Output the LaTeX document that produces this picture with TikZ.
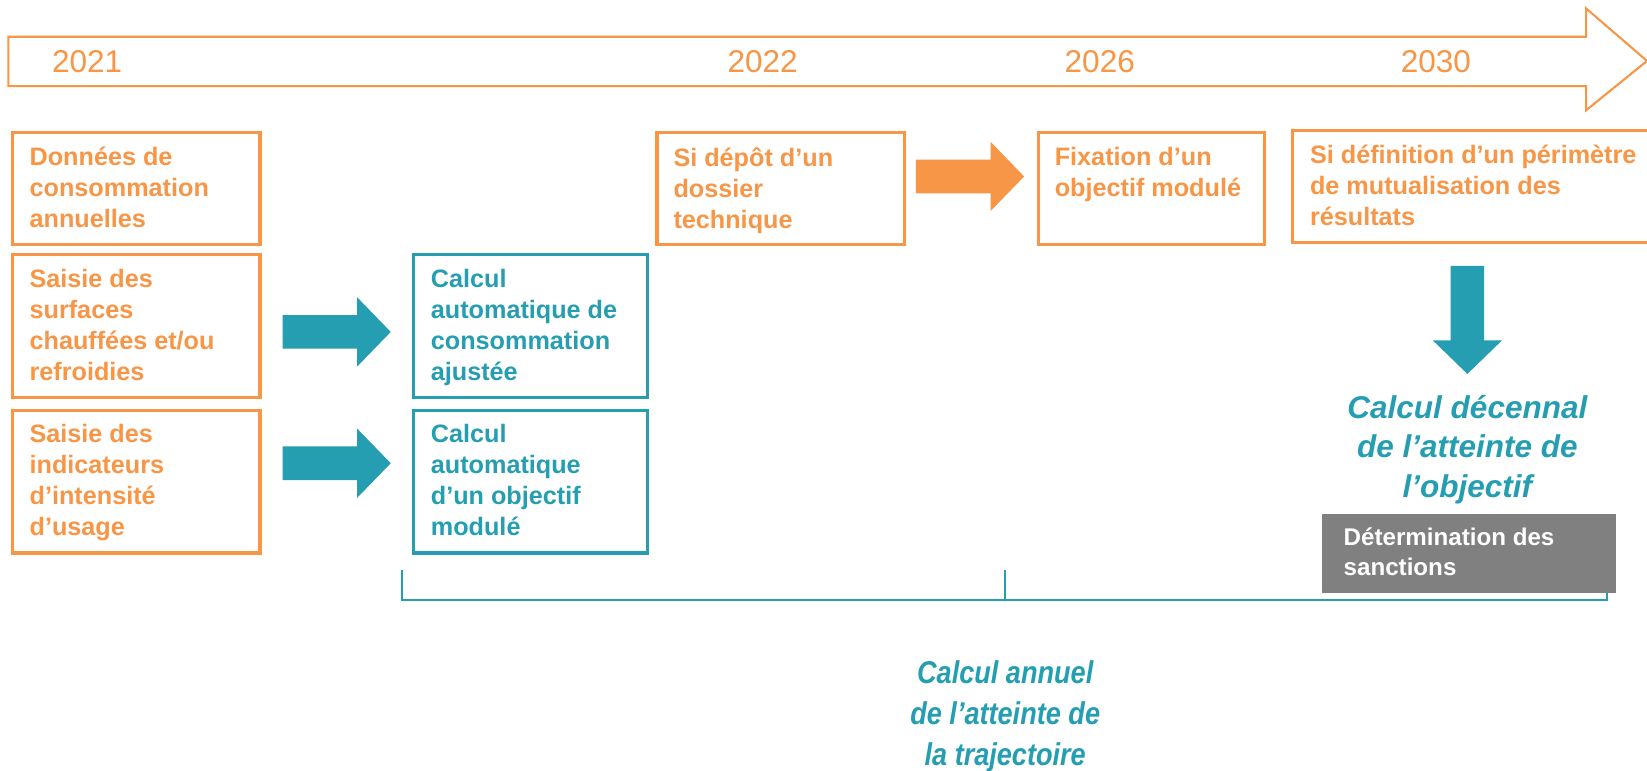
\documentclass[tikz,border=0pt]{standalone}
\usepackage{fontspec}
\setmainfont{Liberation Sans}
\newfontfamily\narrowfont[FakeStretch=0.86]{Liberation Sans}
\definecolor{ora}{RGB}{247,150,70}
\definecolor{tea}{RGB}{37,158,177}
\definecolor{gry}{RGB}{128,128,128}
\tikzset{
  obox/.style={draw=ora, line width=3pt, rectangle, inner sep=0pt},
  tbox/.style={draw=tea, line width=3pt, rectangle, inner sep=0pt},
  otext/.style={text=ora, font=\fontsize{24}{29.5}\selectfont\bfseries, align=left, inner sep=0pt, anchor=north west},
  ttext/.style={text=tea, font=\fontsize{24}{29.5}\selectfont\bfseries, align=left, inner sep=0pt, anchor=north west},
  year/.style={text=ora, font=\fontsize{30}{36}\selectfont, inner sep=0pt},
  blockarrow/.pic={\fill (0,-16) -- (71,-16) -- (71,-33) -- (103,0) -- (71,33) -- (71,16) -- (0,16) -- cycle;}
}
\begin{document}
\begin{tikzpicture}[x=1pt,y=-1pt]
\useasboundingbox (0,0) rectangle (1568,734);
\clip (0,0) rectangle (1568,734);
\fill[white] (0,0) rectangle (1568,734);
% timeline arrow
\draw[ora, line width=2pt, line join=miter] (8,35) -- (1510,35) -- (1510,8) -- (1568,58) -- (1510,105) -- (1510,82) -- (8,82) -- cycle;
\node[year] (y1) at (83,59) {2021};
\node[year] (y2) at (726,59) {2022};
\node[year] (y3) at (1047,59) {2026};
\node[year] (y4) at (1367,59) {2030};
% orange boxes
\node[obox, anchor=north west, minimum width=236pt, minimum height=106pt] (b1) at (10,125) {};
\node[otext] (b1t) at ([shift={(18,15)}]b1.north west) {Données de\\consommation\\annuelles};
\node[obox, anchor=north west, minimum width=236pt, minimum height=136pt] (b2) at (10,241) {};
\node[otext] (b2t) at ([shift={(18,15)}]b2.north west) {Saisie des\\surfaces\\chauffées et/ou\\refroidies};
\node[obox, anchor=north west, minimum width=236pt, minimum height=136pt] (b3) at (10,389) {};
\node[otext] (b3t) at ([shift={(18,15)}]b3.north west) {Saisie des\\indicateurs\\d’intensité\\d’usage};
% teal boxes
\node[tbox, anchor=north west, minimum width=223pt, minimum height=136pt] (t1) at (392,241) {};
\node[ttext] (t1t) at ([shift={(18,15)}]t1.north west) {Calcul\\automatique de\\consommation\\ajustée};
\node[tbox, anchor=north west, minimum width=223pt, minimum height=136pt] (t2) at (392,389) {};
\node[ttext] (t2t) at ([shift={(18,15)}]t2.north west) {Calcul\\automatique\\d’un objectif\\modulé};
% upper row boxes
\node[obox, anchor=north west, minimum width=236pt, minimum height=106pt] (b6) at (624,125) {};
\node[otext] (b6t) at ([shift={(17,15)}]b6.north west) {Si dépôt d’un\\dossier\\technique};
\node[obox, anchor=north west, minimum width=215pt, minimum height=106pt] (b7) at (987,125) {};
\node[otext] (b7t) at ([shift={(17,15)}]b7.north west) {Fixation d’un\\objectif modulé};
\node[obox, anchor=north west, minimum width=450pt, minimum height=106pt] (b8) at (1229,123) {};
\node[otext] (b8t) at ([shift={(18,15)}]b8.north west) {Si définition d’un périmètre\\de mutualisation des\\résultats};
% block arrows
\pic[tea] at (269,316) {blockarrow};
\pic[tea] at (269,441) {blockarrow};
\pic[ora] at (872,168) {blockarrow};
\pic[tea, rotate=-90] at (1397,253) {blockarrow};
% decennal text
\node[text=tea, font=\fontsize{30}{37.5}\selectfont\bfseries\itshape, align=center, inner sep=0pt] (dec) at (1397,428) {Calcul décennal\\de l’atteinte de\\l’objectif};
% bracket
\coordinate (bl) at (383,543);
\coordinate (bm) at (957,543);
\coordinate (br) at (1530,560);
\draw[tea, line width=2pt] (bl) -- (bl |- 0,571) -- (br |- 0,571) -- (br);
\draw[tea, line width=2pt] (bm) -- (bm |- 0,571);
% sanctions
\node[fill=gry, anchor=north west, minimum width=280pt, minimum height=75pt, inner sep=0pt] (san) at (1258,489) {};
\node[text=white, font=\fontsize{23}{29}\selectfont\bfseries, align=left, inner sep=0pt, anchor=north west] (sant) at ([shift={(21,13)}]san.north west) {Détermination des\\sanctions};
% annual text
\node[text=tea, font=\fontsize{30}{39}\narrowfont\bfseries\itshape, align=center, inner sep=0pt] (ann) at (957,682) {Calcul annuel\\de l’atteinte de\\la trajectoire};
\end{tikzpicture}
\end{document}
